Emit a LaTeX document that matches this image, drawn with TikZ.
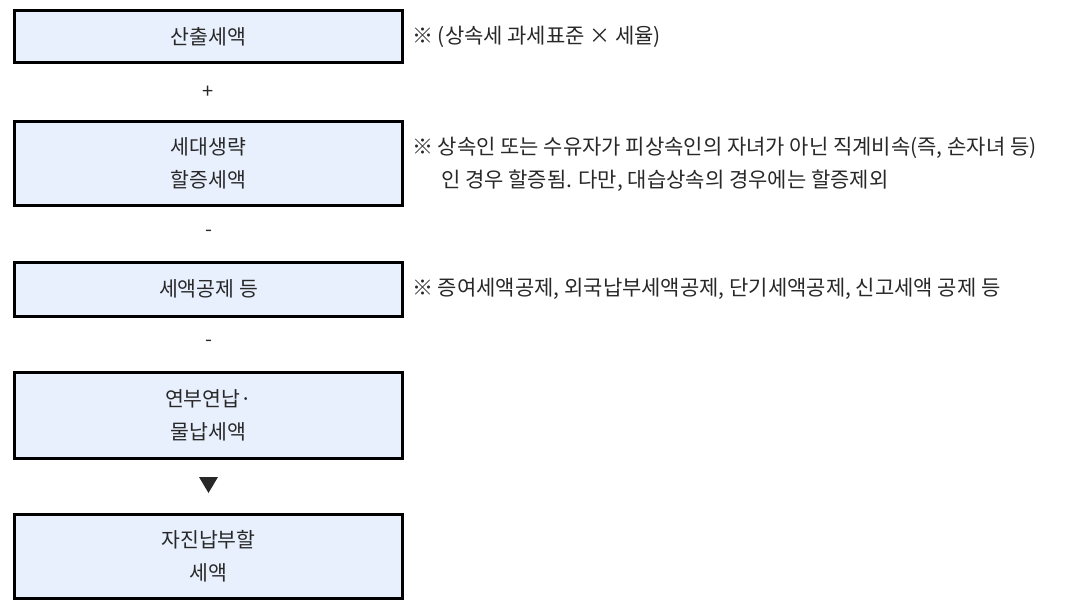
\documentclass[tikz,border=0pt]{standalone}
\usepackage{fontspec}
\setmainfont{Noto Sans CJK KR}
\definecolor{boxfill}{RGB}{232,240,254}
\definecolor{txt}{RGB}{40,40,40}
\tikzset{
  stepbox/.style={draw=black,line width=3pt,fill=boxfill,minimum width=388pt,
    align=center,text=txt,font=\fontsize{20.5}{33}\selectfont,inner sep=0pt},
  opsign/.style={text=txt,font=\fontsize{20}{22}\selectfont,inner sep=0pt},
  note/.style={anchor=west,align=left,text=txt,font=\fontsize{21}{33}\selectfont,inner sep=0pt}
}
\begin{document}
\begin{tikzpicture}[x=1pt,y=-1pt]
\useasboundingbox (0,0) rectangle (1069,610);
\node[stepbox,minimum height=52pt] (sanchul) at (208.5,36.5) {산출세액};
\node[stepbox,minimum height=84pt] (haljeung) at (208.5,163) {세대생략\\할증세액};
\node[stepbox,minimum height=54pt] (gongje) at (208.5,289) {세액공제 등};
\node[stepbox,minimum height=86pt] (yeonbu) at (208.5,415) {연부연납·\\물납세액};
\node[stepbox,minimum height=84pt] (jajin) at (208.5,556) {자진납부할\\세액};
\node[opsign] (plus) at (208.5,92) {+};
\node[opsign] (minusA) at (208.5,233) {-};
\node[opsign] (minusB) at (208.5,343) {-};
\fill[txt] (199,477) -- (218,477) -- (208.5,493) -- cycle;
\node[note] (noteA) at (412,37) {※ (상속세 과세표준 × 세율)};
\node[note] (noteB) at (412,164) {※ 상속인 또는 수유자가 피상속인의 자녀가 아닌 직계비속(즉, 손자녀 등)\\\hspace*{29pt}인 경우 할증됨. 다만, 대습상속의 경우에는 할증제외};
\node[note] (noteC) at (412,289) {※ 증여세액공제, 외국납부세액공제, 단기세액공제, 신고세액 공제 등};
\end{tikzpicture}
\end{document}
